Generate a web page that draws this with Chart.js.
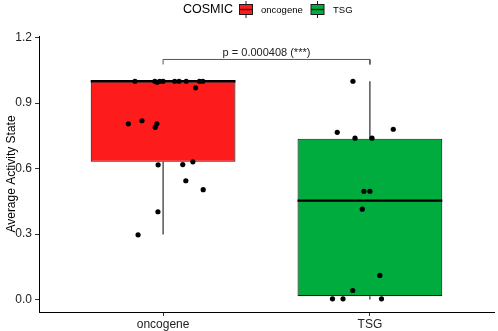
<!DOCTYPE html>
<html>
<head>
<meta charset="utf-8">
<script src="https://cdn.jsdelivr.net/npm/chart.js@4"></script>
<style>
  html, body { margin: 0; padding: 0; background: #fff; }
  #wrap { width: 498px; height: 331px; }
</style>
</head>
<body>
<div id="wrap"><canvas id="myChart" width="498" height="331"></canvas></div>
<script>
// categorias y colores de relleno
const categorias = ["oncogene", "TSG"];
const colores = ["#FE1B1B", "#00AC3E"];

// resumen de cada caja: bigote inferior, Q1, mediana, Q3, bigote superior
const bigoteInf = [0.298, 0.0];
const q1 = [0.631, 0.015];
const mediana = [1.0, 0.453];
const q3 = [1.0, 0.737];
const bigoteSup = [1.0, 1.0];

// puntos con jitter (desplazamiento horizontal)
const oncoJitter = [-0.136, -0.04, -0.029, -0.016, 0, 0.056, 0.077, 0.112, 0.176, 0.192, 0.157,
  -0.168, -0.102, -0.03, -0.038, -0.024, 0.095, 0.144, 0.11, 0.194, -0.025, -0.121];
const oncoValores = [1.0, 1.0, 0.995, 1.0, 1.0, 1.0, 1.0, 1.0, 1.0, 1.0, 0.97,
  0.805, 0.819, 0.805, 0.789, 0.617, 0.618, 0.631, 0.544, 0.503, 0.402, 0.296];
const tsgJitter = [-0.082, -0.158, 0.113, -0.072, 0.01, -0.029, 0, -0.037, 0.048, -0.083, -0.181, -0.13, 0.056];
const tsgValores = [1.0, 0.766, 0.78, 0.739, 0.739, 0.496, 0.496, 0.414, 0.11, 0.041, 0.003, 0.003, 0.003];

const yTicks = [0, 0.3, 0.6, 0.9, 1.2];
const pTexto = "p = 0.000408 (***)";
const tituloLeyenda = "COSMIC";

const anchoCaja = 0.7;
const FUENTE = "'Liberation Sans', Arial, Helvetica, sans-serif";

// ---- datasets construidos desde los arreglos ----
const puntos = [];
oncoJitter.forEach((j, i) => puntos.push({ x: 1 + j, y: oncoValores[i] }));
tsgJitter.forEach((j, i) => puntos.push({ x: 2 + j, y: tsgValores[i] }));

const cajas = categorias.map((c, i) => ({ x: i + 1, y: [q1[i], q3[i]] }));

const bigotes = [];
const lineasMediana = [];
categorias.forEach((c, i) => {
  const x = i + 1;
  bigotes.push({ x: x, y: bigoteInf[i] }, { x: x, y: q1[i] }, { x: x + 0.5, y: null });
  bigotes.push({ x: x, y: q3[i] }, { x: x, y: bigoteSup[i] }, { x: x + 0.5, y: null });
  lineasMediana.push({ x: x - anchoCaja / 2, y: mediana[i] }, { x: x + anchoCaja / 2, y: mediana[i] }, { x: x + 0.5, y: null });
});

const corchete = [
  { x: 1, y: 1.077 }, { x: 1, y: 1.1 }, { x: 2, y: 1.1 }, { x: 2, y: 1.077 }
];

// ---- texto del p-valor y leyenda ----
const textosPlugin = {
  id: "textos",
  afterDraw(chart) {
    const ctx = chart.ctx;
    const xs = chart.scales.x, ys = chart.scales.y;
    ctx.save();
    ctx.fillStyle = "#222";
    ctx.font = "11px " + FUENTE;
    ctx.textAlign = "center";
    ctx.textBaseline = "middle";
    ctx.fillText(pTexto, xs.getPixelForValue(1.5), ys.getPixelForValue(1.128));

    // leyenda superior
    ctx.textAlign = "left";
    ctx.fillStyle = "#000";
    ctx.font = "12.5px " + FUENTE;
    ctx.fillText(tituloLeyenda, 183, 9.5);
    ctx.font = "9.5px " + FUENTE;
    const keyX = [239.5, 311];
    const labelX = [261, 333];
    categorias.forEach((c, i) => {
      const kx = keyX[i], cx = kx + 6.5;
      ctx.strokeStyle = "#1a1a1a";
      ctx.lineWidth = 1;
      ctx.beginPath();
      ctx.moveTo(cx, 1); ctx.lineTo(cx, 18);
      ctx.stroke();
      ctx.fillStyle = colores[i];
      ctx.fillRect(kx, 4.5, 13, 10);
      ctx.strokeRect(kx, 4.5, 13, 10);
      ctx.lineWidth = 1.3;
      ctx.beginPath();
      ctx.moveTo(kx, 9.5); ctx.lineTo(kx + 13, 9.5);
      ctx.stroke();
      ctx.fillStyle = "#000";
      ctx.fillText(c, labelX[i], 10);
    });
    ctx.restore();
  }
};

const graph = document.querySelector("#myChart");
const chart = new Chart(graph, {
  type: "scatter",
  data: {
    datasets: [
      {
        type: "scatter",
        data: puntos,
        backgroundColor: "#000",
        borderColor: "#000",
        pointRadius: 2.6,
        pointBorderWidth: 0,
        order: 1,
      },
      {
        type: "line",
        data: lineasMediana,
        borderColor: "#000",
        borderWidth: 2.3,
        pointRadius: 0,
        showLine: true,
        spanGaps: false,
        order: 2,
      },
      {
        type: "bar",
        data: cajas,
        backgroundColor: colores,
        borderColor: "#1a1a1a",
        borderWidth: 1.1,
        borderSkipped: false,
        barPercentage: anchoCaja,
        categoryPercentage: 1,
        order: 3,
      },
      {
        type: "line",
        data: bigotes,
        borderColor: "#1a1a1a",
        borderWidth: 1.1,
        pointRadius: 0,
        showLine: true,
        spanGaps: false,
        order: 4,
      },
      {
        type: "line",
        data: corchete,
        borderColor: "#555",
        borderWidth: 1,
        pointRadius: 0,
        showLine: true,
        order: 5,
      },
    ],
  },
  options: {
    responsive: false,
    animation: false,
    devicePixelRatio: 1,
    layout: { padding: { top: 36, right: 1, left: 0, bottom: 0 } },
    plugins: { legend: { display: false }, tooltip: { enabled: false } },
    scales: {
      x: {
        type: "linear",
        min: 0.4,
        max: 2.6,
        offset: false,
        afterBuildTicks: (s) => { s.ticks = categorias.map((c, i) => ({ value: i + 1 })); },
        afterFit: (s) => { s.height = 19; },
        ticks: {
          callback: (v) => categorias[v - 1],
          color: "#222",
          font: { family: FUENTE, size: 12 },
          padding: 1,
          maxRotation: 0,
        },
        grid: { offset: false, drawOnChartArea: false, drawTicks: true, tickLength: 4, color: "#333" },
        border: { display: true, color: "#000", width: 1 },
      },
      y: {
        type: "linear",
        min: -0.0575,
        max: 1.2075,
        afterBuildTicks: (s) => { s.ticks = yTicks.map((v) => ({ value: v })); },
        afterFit: (s) => { s.width = 39; },
        ticks: {
          callback: (v) => v.toFixed(1),
          color: "#222",
          font: { family: FUENTE, size: 12 },
          padding: 3,
        },
        title: {
          display: true,
          text: "Average Activity State",
          color: "#000",
          font: { family: FUENTE, size: 12 },
          padding: { top: 4, bottom: 0 },
        },
        grid: { drawOnChartArea: false, drawTicks: true, tickLength: 4, color: "#333" },
        border: { display: true, color: "#000", width: 1 },
      },
    },
  },
  plugins: [textosPlugin],
});
</script>
</body>
</html>
